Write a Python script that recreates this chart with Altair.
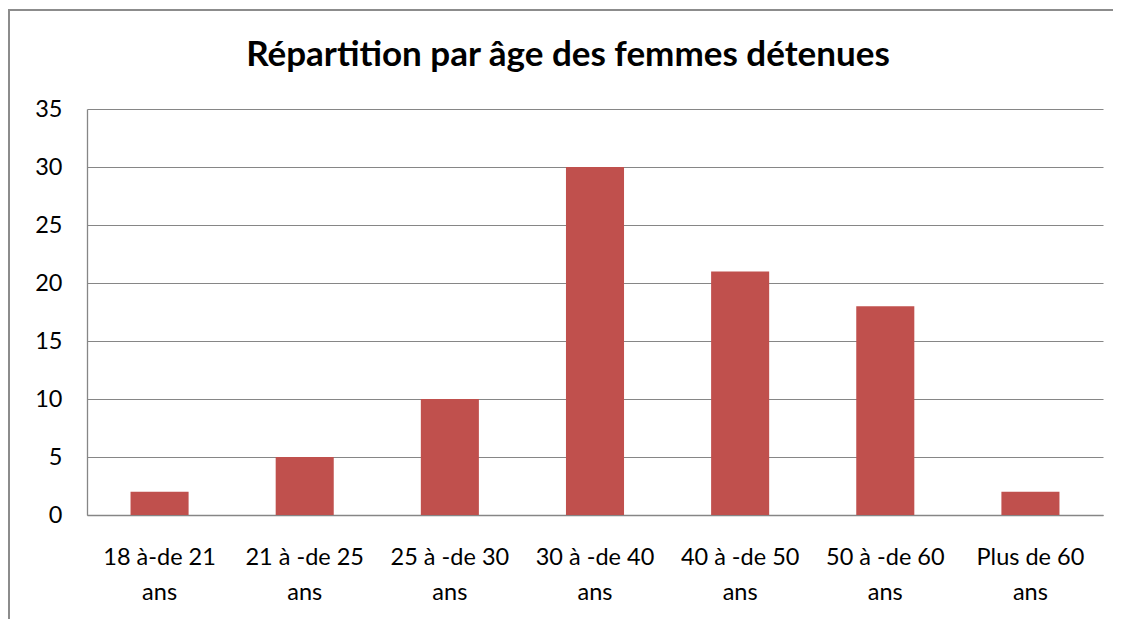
import altair as alt
import pandas as pd

categories = ["18 à-de 21\nans", "21 à -de 25\nans", "25 à -de 30\nans", "30 à -de 40\nans",
              "40 à  -de 50\nans", "50 à -de 60\nans", "Plus de 60\nans"]
values = [2, 5, 10, 30, 21, 18, 2]
y_ticks = [0, 5, 10, 15, 20, 25, 30, 35]
title_text = "Répartition par âge des femmes détenues"

df = pd.DataFrame({"cat": categories, "val": values})

FONT = "Lato"
GRAY = "#868686"

bars = alt.Chart(df).mark_bar(color="#C0504D").encode(
    x=alt.X("cat:N", sort=categories,
            scale=alt.Scale(paddingInner=0.6, paddingOuter=0.3),
            axis=alt.Axis(title=None, labelAngle=0, ticks=False, labelPadding=30,
                          labelExpr="split(datum.label, '\\n')", labelLineHeight=35,
                          labelFontSize=23.5, labelFont=FONT, labelColor="#000000",
                          domainColor=GRAY, domainWidth=1.3, grid=False)),
    y=alt.Y("val:Q", scale=alt.Scale(domain=[0, 35], nice=False),
            axis=alt.Axis(title=None, values=y_ticks, ticks=False, labelPadding=25,
                          labelFontSize=23.5, labelFont=FONT, labelColor="#000000",
                          domainColor=GRAY, domainWidth=1.3,
                          gridColor=GRAY, gridWidth=1.2)),
)

single = alt.Data(values=[{"t": title_text}])
left_border = alt.Chart(single).mark_rule(color="#8c8c8c", strokeWidth=2).encode(
    x=alt.value(-78), y=alt.value(-99), y2=alt.value(560))
top_border = alt.Chart(single).mark_rule(color="#8c8c8c", strokeWidth=2).encode(
    x=alt.value(-79), x2=alt.value(1100), y=alt.value(-99))
title = alt.Chart(single).mark_text(
    font=FONT, fontSize=35, fontWeight="bold", color="#000000",
    align="center", baseline="alphabetic").encode(
    text="t:N", x=alt.value(481), y=alt.value(-43))

chart = alt.layer(bars, left_border, top_border, title).properties(
    width=1016, height=406,
    autosize=alt.AutoSizeParams(type="none"),
    padding={"left": 79, "top": 101, "right": 10, "bottom": 104},
).configure_view(stroke=None)

chart.save("out.html", embed_options={"renderer": "svg", "actions": False})
